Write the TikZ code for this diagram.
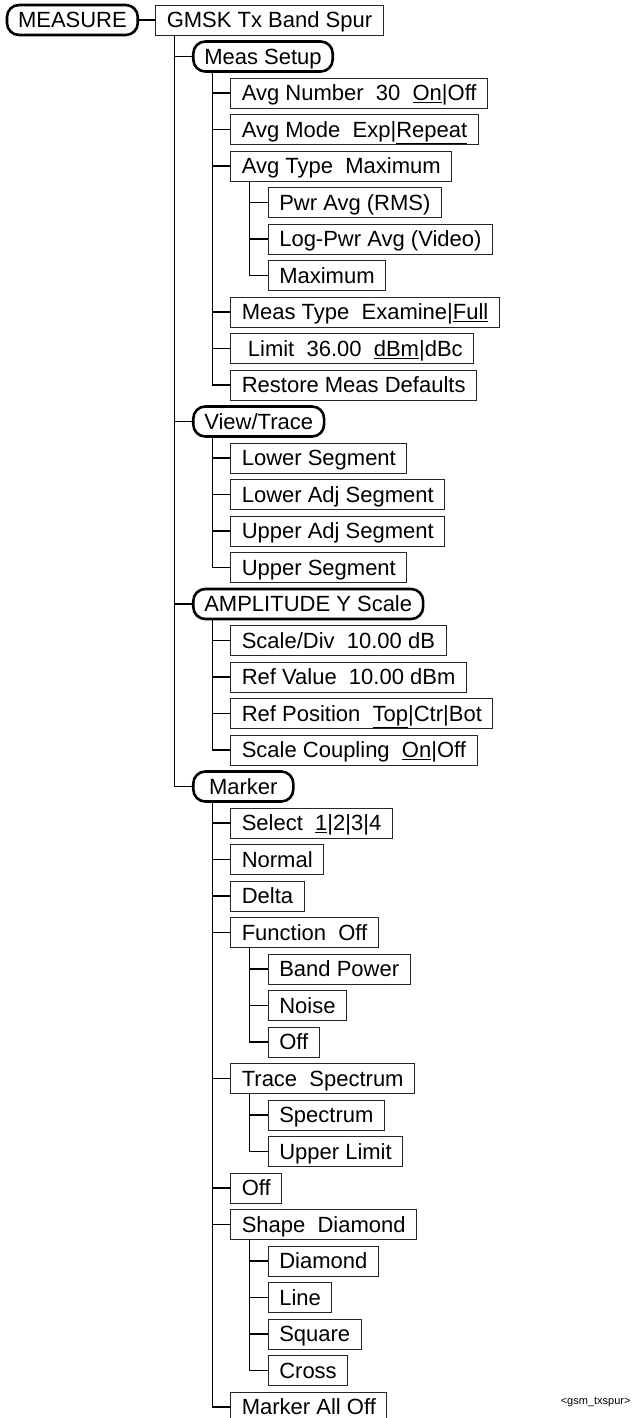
\documentclass[tikz,border=0pt]{standalone}
\usepackage{fontspec}
\setmainfont{Liberation Sans}
\usetikzlibrary{positioning}

\begin{document}
\begin{tikzpicture}[
    x=1pt, y=1pt,
    node distance=6.5pt and 18pt,
    item/.style={rectangle, draw=black!85, line width=0.9pt, outer sep=0pt, inner xsep=11pt, inner ysep=2pt,
        minimum height=30pt, text height=19pt, text depth=3.5pt, font=\fontsize{22}{26}\selectfont},
    menu/.style={item, draw=black, line width=2.6pt, rounded corners=12pt, minimum width=100pt},
    stack/.style={below=of #1.south west, anchor=north west},
    link/.style={line width=1.2pt}
]
\useasboundingbox (0,0) rectangle (635,-1418);

% Nodes
\node[menu, anchor=west] (measure) at (7,-20) {MEASURE};
\node[item, right=of measure] (gmsk) {GMSK Tx Band Spur};

\node[menu, stack=gmsk, xshift=37.5pt] (meassetup) {Meas Setup};
\node[item, stack=meassetup, xshift=37.5pt] (avgnum) {Avg Number~ 30~ \underline{On}|Off};
\node[item, stack=avgnum] (avgmode) {Avg Mode~ Exp|\underline{Repeat}};
\node[item, stack=avgmode] (avgtype) {Avg Type~ Maximum};
\node[item, stack=avgtype, xshift=37.5pt] (pwravg) {Pwr Avg (RMS)};
\node[item, stack=pwravg] (logpwr) {Log-Pwr Avg (Video)};
\node[item, stack=logpwr] (maximum) {Maximum};
\node[item, stack=maximum, xshift=-37.5pt] (meastype) {Meas Type~ Examine|\underline{Full}};
\node[item, stack=meastype] (limit) {\ Limit~ 36.00~ \underline{dBm}|dBc};
\node[item, stack=limit] (restore) {Restore Meas Defaults};

\node[menu, stack=restore, xshift=-37.5pt] (viewtrace) {View/Trace};
\node[item, stack=viewtrace, xshift=37.5pt] (lowerseg) {Lower Segment};
\node[item, stack=lowerseg] (loweradj) {Lower Adj Segment};
\node[item, stack=loweradj] (upperadj) {Upper Adj Segment};
\node[item, stack=upperadj] (upperseg) {Upper Segment};

\node[menu, stack=upperseg, xshift=-37.5pt] (amplitude) {AMPLITUDE Y Scale};
\node[item, stack=amplitude, xshift=37.5pt] (scalediv) {Scale/Div~ 10.00 dB};
\node[item, stack=scalediv] (refvalue) {Ref Value~ 10.00 dBm};
\node[item, stack=refvalue] (refpos) {Ref Position~ \underline{Top}|Ctr|Bot};
\node[item, stack=refpos] (scalecoup) {Scale Coupling~ \underline{On}|Off};

\node[menu, stack=scalecoup, xshift=-37.5pt] (marker) {Marker};
\node[item, stack=marker, xshift=37.5pt] (select) {Select~ \underline{1}|2|3|4};
\node[item, stack=select] (normal) {Normal};
\node[item, stack=normal] (delta) {Delta};
\node[item, stack=delta] (function) {Function~ Off};
\node[item, stack=function, xshift=37.5pt] (bandpower) {Band Power};
\node[item, stack=bandpower] (noise) {Noise};
\node[item, stack=noise] (funcoff) {Off};
\node[item, stack=funcoff, xshift=-37.5pt] (trace) {Trace~ Spectrum};
\node[item, stack=trace, xshift=37.5pt] (spectrum) {Spectrum};
\node[item, stack=spectrum] (upperlimit) {Upper Limit};
\node[item, stack=upperlimit, xshift=-37.5pt] (markeroff) {Off};
\node[item, stack=markeroff] (shape) {Shape~ Diamond};
\node[item, stack=shape, xshift=37.5pt] (diamond) {Diamond};
\node[item, stack=diamond] (line) {Line};
\node[item, stack=line] (square) {Square};
\node[item, stack=square] (cross) {Cross};
\node[item, stack=cross, xshift=-37.5pt] (alloff) {Marker All Off};

\node[font=\fontsize{11}{13}\selectfont, anchor=east] (figtag) at (634,-1402) {<gsm\_txspur>};

% Connections
\draw[link] (measure) -- (gmsk);
\draw[link] ([xshift=19pt]gmsk.south west) |- (meassetup.west);
\draw[link] ([xshift=19pt]gmsk.south west) |- (viewtrace.west);
\draw[link] ([xshift=19pt]gmsk.south west) |- (amplitude.west);
\draw[link] ([xshift=19pt]gmsk.south west) |- (marker.west);

\draw[link] ([xshift=19pt]meassetup.south west) |- (avgnum.west);
\draw[link] ([xshift=19pt]meassetup.south west) |- (avgmode.west);
\draw[link] ([xshift=19pt]meassetup.south west) |- (avgtype.west);
\draw[link] ([xshift=19pt]meassetup.south west) |- (meastype.west);
\draw[link] ([xshift=19pt]meassetup.south west) |- (limit.west);
\draw[link] ([xshift=19pt]meassetup.south west) |- (restore.west);
\draw[link] ([xshift=19pt]avgtype.south west) |- (pwravg.west);
\draw[link] ([xshift=19pt]avgtype.south west) |- (logpwr.west);
\draw[link] ([xshift=19pt]avgtype.south west) |- (maximum.west);

\draw[link] ([xshift=19pt]viewtrace.south west) |- (lowerseg.west);
\draw[link] ([xshift=19pt]viewtrace.south west) |- (loweradj.west);
\draw[link] ([xshift=19pt]viewtrace.south west) |- (upperadj.west);
\draw[link] ([xshift=19pt]viewtrace.south west) |- (upperseg.west);

\draw[link] ([xshift=19pt]amplitude.south west) |- (scalediv.west);
\draw[link] ([xshift=19pt]amplitude.south west) |- (refvalue.west);
\draw[link] ([xshift=19pt]amplitude.south west) |- (refpos.west);
\draw[link] ([xshift=19pt]amplitude.south west) |- (scalecoup.west);

\draw[link] ([xshift=19pt]marker.south west) |- (select.west);
\draw[link] ([xshift=19pt]marker.south west) |- (normal.west);
\draw[link] ([xshift=19pt]marker.south west) |- (delta.west);
\draw[link] ([xshift=19pt]marker.south west) |- (function.west);
\draw[link] ([xshift=19pt]marker.south west) |- (trace.west);
\draw[link] ([xshift=19pt]marker.south west) |- (markeroff.west);
\draw[link] ([xshift=19pt]marker.south west) |- (shape.west);
\draw[link] ([xshift=19pt]marker.south west) |- (alloff.west);
\draw[link] ([xshift=19pt]function.south west) |- (bandpower.west);
\draw[link] ([xshift=19pt]function.south west) |- (noise.west);
\draw[link] ([xshift=19pt]function.south west) |- (funcoff.west);
\draw[link] ([xshift=19pt]trace.south west) |- (spectrum.west);
\draw[link] ([xshift=19pt]trace.south west) |- (upperlimit.west);
\draw[link] ([xshift=19pt]shape.south west) |- (diamond.west);
\draw[link] ([xshift=19pt]shape.south west) |- (line.west);
\draw[link] ([xshift=19pt]shape.south west) |- (square.west);
\draw[link] ([xshift=19pt]shape.south west) |- (cross.west);

\end{tikzpicture}
\end{document}
